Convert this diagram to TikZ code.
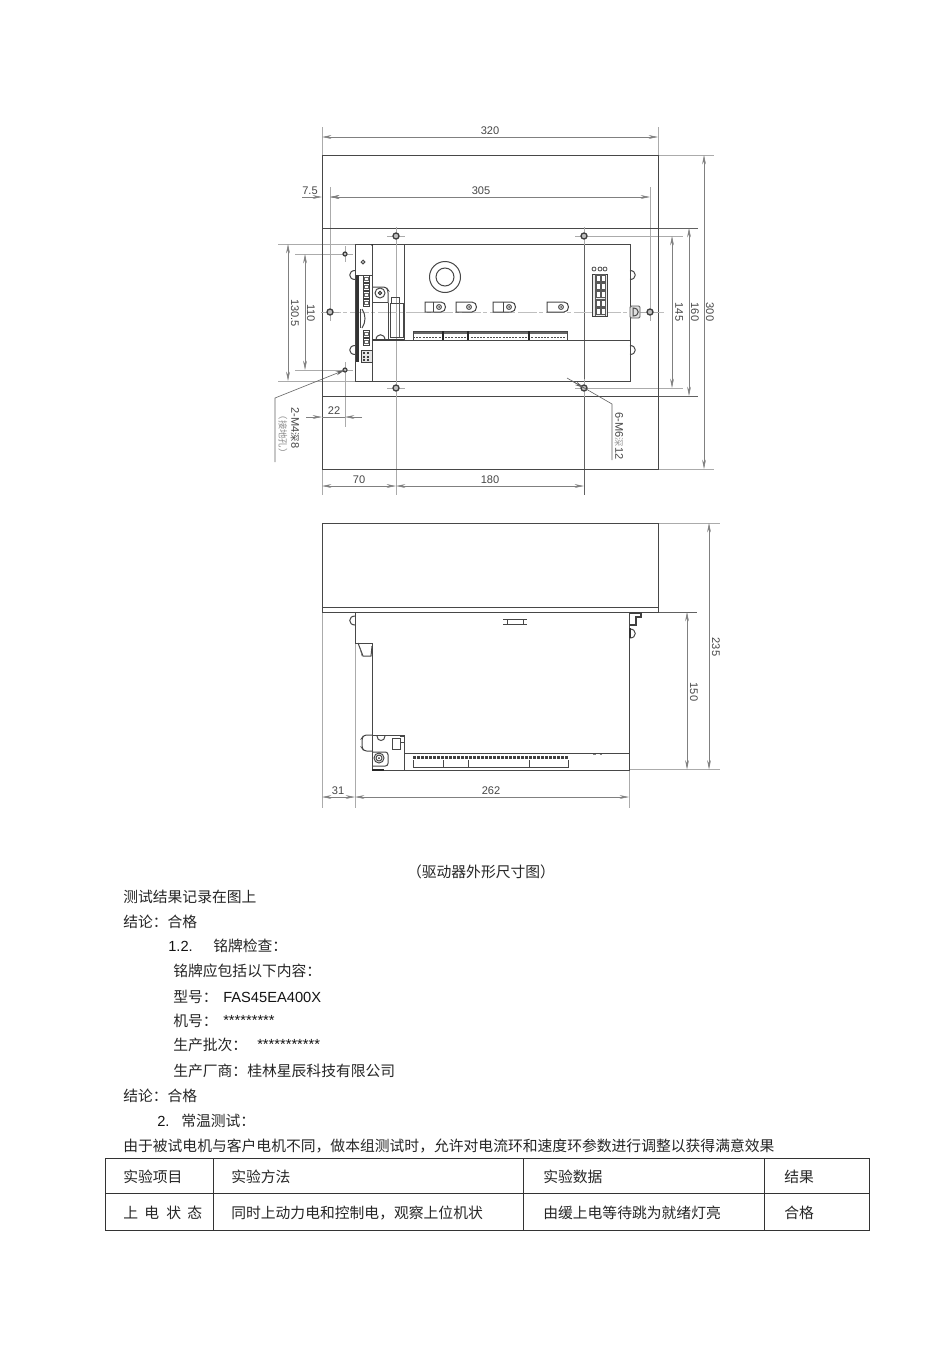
\documentclass[tikz,border=0pt]{standalone}
\usepackage{fontspec}
\setmainfont{Liberation Sans}
\newfontfamily\cjk{Noto Sans CJK SC}
\usetikzlibrary{arrows.meta}
\tikzset{
  mainline/.style={draw=black!72,line width=0.75pt},
  thinline/.style={draw=black!62,line width=0.45pt},
  extline/.style={draw=black!33,line width=0.6pt},
  dimline/.style={draw=black!50,line width=0.45pt,>={Stealth[length=7pt,width=2.8pt]}},
  centerline/.style={draw=black!25,line width=0.6pt,dash pattern=on 14pt off 2pt on 3pt off 2pt},
  dimlabel/.style={inner sep=0pt,text=black!72,font=\fontsize{8.3}{10}\selectfont},
  sidelabel/.style={dimlabel,rotate=-90},
  bodytext/.style={inner sep=0pt,anchor=west,text=black!85,font=\cjk\fontsize{11.1}{13}\selectfont},
  latintext/.style={inner sep=0pt,anchor=west,text=black!92,font=\fontsize{11}{13}\selectfont},
  tableline/.style={draw=black!80,line width=0.75pt},
}
\newcommand{\lugshape}[4]{%
  \draw[mainline] (#1,302) -- ({#3-5},302) .. controls ({#3+1},302) and ({#3+1},312) .. ({#3-5},312) -- (#1,312) -- cycle;
  \ifx#2\empty\else\draw[mainline] (#2,302) -- (#2,312);\fi
  \draw[mainline] (#4,307) circle[radius=2.4];
  \fill[black!70] (#4,307) circle[radius=1];
}
\newcommand{\bighole}[2]{%
  \draw[extline,line width=0.4pt] ({#1-9},#2) -- ({#1+9},#2) ({#1},{#2-9}) -- ({#1},{#2+9});
  \draw[draw=black!75,line width=1pt,fill=black!25] (#1,#2) circle[radius=3];
}
\newcommand{\smallhole}[2]{%
  \draw[extline,line width=0.4pt] ({#1-8},#2) -- ({#1+8},#2) ({#1},{#2-8}) -- ({#1},{#2+8});
  \draw[draw=black!75,line width=0.9pt,fill=black!25] (#1,#2) circle[radius=2];
}
\newcommand{\termsq}[1]{%
  \draw[draw=black!75,line width=0.7pt] (363,{#1-3.4}) rectangle (369.5,{#1+3.4});
  \draw[draw=black!60,line width=0.4pt] (364.5,{#1-1.5}) rectangle (368,{#1+1.5});
}
\newcommand{\tabright}[3]{\draw[mainline] (#1,{#2-#3}) .. controls ({#1+7},{#2-#3}) and ({#1+7},{#2+#3}) .. (#1,{#2+#3});}
\newcommand{\tableft}[3]{\draw[mainline] (#1,{#2-#3}) .. controls ({#1-7},{#2-#3}) and ({#1-7},{#2+#3}) .. (#1,{#2+#3});}
\begin{document}
\begin{tikzpicture}[x=0.75pt,y=-0.75pt]
\useasboundingbox (0,0) rectangle (950,1345);
\fill[white] (0,0) rectangle (950,1345);

% ---- top view: extension lines
\draw[extline] (322,127) -- (322,495);
\draw[extline] (658,127) -- (658,155);
\draw[extline] (396,228) -- (396,495);
\draw[thinline] (584,228) -- (584,495);
\draw[extline] (330,187) -- (330,312);
\draw[extline] (650,187) -- (650,312);
\draw[extline] (658,155) -- (714,155);
\draw[extline] (658,469) -- (714,469);
\draw[thinline] (658,228) -- (698,228);
\draw[thinline] (658,396) -- (698,396);
\draw[extline] (584,236) -- (683,236);
\draw[extline] (584,388) -- (683,388);
\draw[extline] (278,244) -- (355,244);
\draw[extline] (278,381) -- (355,381);
\draw[extline] (295,254) -- (345,254);
\draw[extline] (295,370) -- (345,370);
\draw[extline] (345,362) -- (345,427);
\draw[centerline] (322,312) -- (664,312);

% ---- top view: outlines
\draw[mainline] (322,155) rectangle (658,469);
\draw[mainline] (322,228) -- (658,228);
\draw[mainline] (322,396) -- (658,396);
\draw[mainline] (355,244) rectangle (630,381);
\draw[mainline] (372,244) -- (372,381);
\draw[mainline] (404,244) -- (404,340);
\draw[mainline] (372,340) -- (630,340);
\fill[black!80] (372,245) circle[radius=1];

% holes
\bighole{396}{236}\bighole{396}{388}\bighole{584}{236}\bighole{584}{388}
\bighole{330}{312}\bighole{650}{312}
\smallhole{345}{254}\smallhole{345}{370}

% ring and lugs
\draw[mainline] (445,277) circle[radius=15.5];
\draw[mainline] (445,277) circle[radius=9];
\lugshape{425}{433}{446}{439}
\lugshape{456}{\empty}{477}{469}
\lugshape{493}{503}{516}{509}
\lugshape{547}{\empty}{569}{561}

% terminal strip
\fill[black!60] (413,331) rectangle (567,334);
\draw[mainline] (413,331) rectangle (567,340);
\draw[draw=black!70,line width=1.4pt,dash pattern=on 1.5pt off 0.9pt] (413,337.5) -- (567,337.5);
\foreach \xx in {443,468,529}{\draw[draw=black!85,line width=0.9pt] (\xx,331) -- (\xx,340);}

% right connector
\draw[draw=black!75,line width=0.7pt,fill=black!8] (592,274) rectangle (607,316);
\draw[thinline] (595,274) -- (595,316) (605,274) -- (605,316);
\foreach \yy in {278,286,294,303,311}{
  \fill[black!65] (595,{\yy-3.6}) rectangle (606,{\yy+3.6});
  \fill[white] (596.5,{\yy-2.5}) rectangle (600,{\yy+2.5});
  \fill[white] (601.5,{\yy-2.5}) rectangle (605,{\yy+2.5});
}
\foreach \xx in {594,600,605}{\draw[draw=black!70,line width=0.6pt] (\xx,269) circle[radius=2];}

% right side tabs and mount
\tabright{630}{275}{4.5}
\tabright{630}{350}{4.5}
\draw[draw=black!65,line width=0.7pt,fill=black!12,rounded corners=1pt] (630,306) rectangle (640,318);
\draw[mainline] (633,308) .. controls (640,308) and (640,316) .. (633,316) -- cycle;

% left panel
\fill[black!80] (356,275) rectangle (358.5,362);
\draw[mainline] (358.5,275) -- (372,275);
\draw[mainline] (363,262) circle[radius=1.8];
\tableft{355}{275}{4.5}
\tableft{355}{350}{4.5}
\foreach \yy in {279,287,295,303,334,342}{\termsq{\yy}}
\draw[mainline] (362,309) .. controls (366,315) and (366,322) .. (362,328);
\draw[mainline] (360,309) -- (360,328);
\draw[draw=black!75,line width=0.7pt,fill=black!10] (361,350) rectangle (372,362);
\foreach \yy in {353,356.5,360}{\fill[black!75] (363,{\yy-1}) rectangle (365,{\yy+1}); \fill[black!75] (367,{\yy-1}) rectangle (369,{\yy+1});}

% power component
\draw[mainline,rounded corners=2pt] (372,287) -- (386,287) -- (388,290) -- (388,303);
\draw[mainline] (380,293) circle[radius=5];
\draw[draw=black!80,line width=0.6pt,fill=black!30] (380,293) circle[radius=1.8];
\draw[mainline] (372,302) -- (388,302);
\draw[mainline] (388,303) -- (388,340);
\draw[mainline] (391,303) -- (391,297) -- (399,297) -- (399,303);
\draw[mainline] (390,303) rectangle (403,337);
\draw[thinline] (399,303) -- (399,337);
\draw[mainline] (376,340) .. controls (376,333) and (385,333) .. (385,340);
\draw[draw=black!75,line width=1pt] (372,340) -- (404,340);

% leaders
\coordinate (la) at (345,370);
\coordinate (lb) at (275,398);
\coordinate (lc) at (275,462);
\draw[thinline,{Stealth[length=7pt,width=2.8pt]}-] (la) -- (lb) -- (lc);
\coordinate (ra) at (567,378);
\coordinate (rb) at (612,404);
\coordinate (rc) at (612,460);
\draw[thinline] (ra) -- (rb) -- (rc);
\draw[thinline,-{Stealth[length=7pt,width=2.8pt]}] (572,381) -- (584,388);

% top view dimensions
\draw[dimline,<->] (322,137) -- (658,137);
\draw[dimline,<->] (330,197) -- (650,197);
\draw[dimline,->] (302,197) -- (322,197);
\draw[dimline,->] (340,197) -- (330,197);
\draw[dimline,<->] (288,244) -- (288,381);
\draw[dimline,<->] (305,254) -- (305,370);
\draw[dimline,->] (306,417) -- (322,417);
\draw[dimline,->] (362,417) -- (345,417);
\draw[dimline,-] (322,417) -- (345,417);
\draw[dimline,<->] (322,486) -- (396,486);
\draw[dimline,<->] (396,486) -- (584,486);
\draw[dimline,<->] (672,236) -- (672,388);
\draw[dimline,<->] (689,228) -- (689,396);
\draw[dimline,<->] (704,155) -- (704,469);

\node[dimlabel] (d320) at (490,131) {320};
\node[dimlabel] (d305) at (481,191) {305};
\node[dimlabel] (d75) at (310,191) {7.5};
\node[dimlabel] (d22) at (334,411) {22};
\node[dimlabel] (d70) at (359,480) {70};
\node[dimlabel] (d180) at (490,480) {180};
\node[sidelabel] (d1305) at (295,313) {130.5};
\node[sidelabel] (d110) at (311,313) {110};
\node[sidelabel] (d145) at (679,312) {145};
\node[sidelabel] (d160) at (695,312) {160};
\node[sidelabel] (d300) at (710,312) {300};
\node[sidelabel] (m4) at (295,428) {2-M4{\cjk\fontsize{7}{8}\selectfont 深}8};
\node[sidelabel,text=black!45,font=\cjk\fontsize{7}{8}\selectfont] (m4b) at (283,434) {（接地孔）};
\node[sidelabel] (m6) at (619,436) {6-M6{\cjk\fontsize{7}{8}\selectfont\color{black!40} 深}12};

% ---- side view
\draw[extline] (322,612) -- (322,808);
\draw[extline] (355,613) -- (355,808);
\draw[extline] (629,770) -- (629,808);
\draw[extline] (658,523) -- (720,523);
\draw[extline] (629,769.5) -- (720,769.5);
\draw[thinline] (658,612) -- (697,612);
\draw[mainline] (322,523) rectangle (658,612.5);
\draw[mainline] (322,607) -- (658,607);
\draw[mainline] (355,612.5) -- (355,643) -- (372,643) -- (372,770) -- (629,770) -- (629,612.5);
\draw[mainline] (404,753) -- (629,753);
\draw[mainline] (358,643) -- (363,656) -- (371,656) -- (372,646);
\draw[thinline] (362,656) -- (360,648);
\tableft{355}{620.5}{4.5}
\draw[mainline] (507,619) -- (507,624) (523,619) -- (523,624) (503,619) -- (527,619) (503,624) -- (527,624);
\draw[draw=black!75,line width=0.8pt] (630,613) -- (641,613) -- (641,617) -- (636,617) -- (636,625) -- (630,625);
\tabright{630}{633.5}{4.5}
\draw[draw=black!80,line width=1pt] (630,628) -- (630,638);
% side component
\draw[mainline] (372,735) rectangle (404,770);
\draw[mainline,rounded corners=2pt] (372,735) -- (364,735) -- (362,738) -- (362,748) -- (364,751) -- (372,751);
\draw[mainline] (392,738) rectangle (400,749);
\draw[mainline] (400,736) -- (404,736) (400,742) -- (404,742);
\draw[mainline] (377,736) .. controls (377,742) and (385,742) .. (385,736);
\draw[mainline,rounded corners=2pt] (372,752) -- (388,752) -- (388,766) -- (372,766);
\draw[mainline] (379,758) circle[radius=5];
\draw[mainline] (379,758) circle[radius=3];
\fill[black!80] (379,758) circle[radius=1];
\draw[draw=black!85,line width=1pt] (372,770) -- (384,770);
% side terminal strip
\draw[mainline] (413,760) -- (413,767) -- (568,767) -- (568,760);
\draw[draw=black!75,line width=2.4pt,dash pattern=on 2pt off 1pt] (413,757.5) -- (568,757.5);
\foreach \xx in {443,468,529}{\draw[mainline] (\xx,760) -- (\xx,767);}
\draw[draw=black!50,line width=0.5pt,dash pattern=on 2pt off 3pt] (593,754) -- (606,754);

\draw[dimline,<->] (322,797) -- (355,797);
\draw[dimline,<->] (355,797) -- (629,797);
\draw[dimline,<->] (687,612) -- (687,769.5);
\draw[dimline,<->] (709,523) -- (709,769.5);
\node[dimlabel] (d31) at (338,790.5) {31};
\node[dimlabel] (d262) at (491,790.5) {262};
\node[sidelabel] (d150) at (694,692) {150};
\node[sidelabel] (d235) at (716,647) {235};

% ---- text
\node[bodytext,anchor=center] (cap) at (481,872) {（驱动器外形尺寸图）};
\node[bodytext] (t1) at (123,897) {测试结果记录在图上};
\node[bodytext] (t2) at (123,922) {结论：合格};
\node[latintext] (t3a) at (168,946) {1.2.};
\node[bodytext] (t3b) at (213,946) {铭牌检查：};
\node[bodytext] (t4) at (173,971) {铭牌应包括以下内容：};
\node[bodytext] (t5a) at (173,997) {型号：};
\node[latintext] (t5b) at (223,997) {FAS45EA400X};
\node[bodytext] (t6a) at (173,1021) {机号：};
\node[latintext] (t6b) at (223,1020) {*********};
\node[bodytext] (t7a) at (173,1045) {生产批次：};
\node[latintext] (t7b) at (257,1044) {***********};
\node[bodytext] (t8) at (173,1071) {生产厂商：桂林星辰科技有限公司};
\node[bodytext] (t9) at (123,1096) {结论：合格};
\node[latintext] (t10a) at (157,1121) {2.};
\node[bodytext] (t10b) at (181,1121) {常温测试：};
\node[bodytext] (t11) at (123,1146) {由于被试电机与客户电机不同，做本组测试时，允许对电流环和速度环参数进行调整以获得满意效果};

% ---- table
\draw[tableline] (105,1158) rectangle (869,1230);
\draw[tableline] (105,1193) -- (869,1193);
\foreach \xx in {213,523,764}{\draw[tableline] (\xx,1158) -- (\xx,1230);}
\node[bodytext] (c11) at (123,1177) {实验项目};
\node[bodytext] (c12) at (231,1177) {实验方法};
\node[bodytext] (c13) at (543,1177) {实验数据};
\node[bodytext] (c14) at (784,1177) {结果};
\node[bodytext] (c21a) at (123,1213) {上};
\node[bodytext] (c21b) at (144,1213) {电};
\node[bodytext] (c21c) at (166,1213) {状};
\node[bodytext] (c21d) at (187,1213) {态};
\node[bodytext] (c22) at (231,1213) {同时上动力电和控制电，观察上位机状};
\node[bodytext] (c23) at (543,1213) {由缓上电等待跳为就绪灯亮};
\node[bodytext] (c24) at (784,1213) {合格};
\end{tikzpicture}
\end{document}
